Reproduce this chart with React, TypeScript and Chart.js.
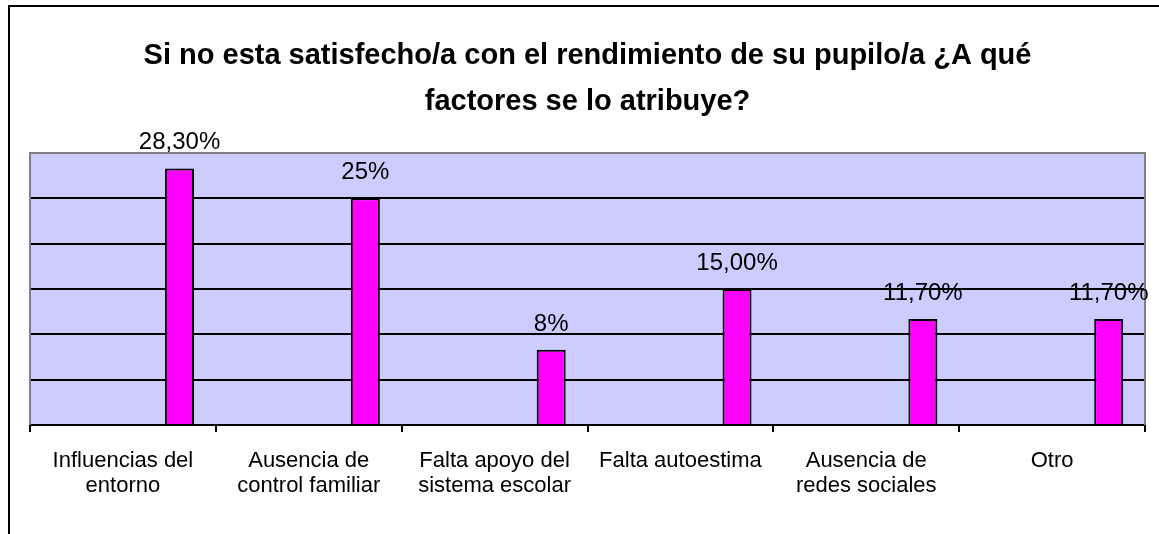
import React, { useEffect, useRef } from "react";
import { Chart, registerables } from "chart.js";

Chart.register(...registerables);

const titleLines = [
  "Si no esta satisfecho/a con el rendimiento de su pupilo/a ¿A qué",
  "factores se lo atribuye?",
];
const categories: string[][] = [
  ["Influencias del", "entorno"],
  ["Ausencia de", "control familiar"],
  ["Falta apoyo del", "sistema escolar"],
  ["Falta autoestima"],
  ["Ausencia de", "redes sociales"],
  ["Otro"],
];
const values = [28.3, 25, 8.3, 15, 11.7, 11.7];
const valueLabels = ["28,30%", "25%", "8%", "15,00%", "11,70%", "11,70%"];
const emptySeriesA = [null, null, null, null, null, null];
const emptySeriesB = [null, null, null, null, null, null];
const yMin = 0;
const yMax = 30;
const yStep = 5;

const FONT = "'Liberation Sans', Arial, sans-serif";

export default function App() {
  const ref = useRef<HTMLCanvasElement | null>(null);
  useEffect(() => {
    if (!ref.current) return;
    const framePlugin = {
      id: "framePlugin",
      beforeDraw(chart: any) {
        const { ctx, chartArea } = chart;
        ctx.save();
        ctx.fillStyle = "#ffffff";
        ctx.fillRect(0, 0, chart.width, chart.height);
        ctx.fillStyle = "#CCCCFF";
        ctx.fillRect(chartArea.left, chartArea.top, chartArea.right - chartArea.left, chartArea.bottom - chartArea.top);
        ctx.strokeStyle = "#000";
        ctx.lineWidth = 2;
        ctx.beginPath();
        ctx.moveTo(9, chart.height + 5);
        ctx.lineTo(9, 6);
        ctx.lineTo(chart.width + 5, 6);
        ctx.stroke();
        ctx.restore();
      },
      beforeDatasetsDraw(chart: any) {
        const { ctx, chartArea } = chart;
        ctx.save();
        ctx.strokeStyle = "#808080";
        ctx.lineWidth = 2;
        ctx.beginPath();
        ctx.moveTo(chartArea.left, chartArea.bottom);
        ctx.lineTo(chartArea.left, chartArea.top);
        ctx.lineTo(chartArea.right, chartArea.top);
        ctx.lineTo(chartArea.right, chartArea.bottom);
        ctx.stroke();
        ctx.restore();
      },
      afterDatasetsDraw(chart: any) {
        const { ctx } = chart;
        const meta = chart.getDatasetMeta(2);
        ctx.save();
        ctx.font = `24px ${FONT}`;
        ctx.fillStyle = "#000";
        ctx.textAlign = "center";
        ctx.textBaseline = "alphabetic";
        meta.data.forEach((el: any, i: number) => {
          ctx.fillText(valueLabels[i], el.x, el.y - 19);
        });
        ctx.restore();
      },
    };

    const chart = new Chart(ref.current, {
      type: "bar",
      data: {
        labels: categories,
        datasets: [
          { label: "", data: emptySeriesA, backgroundColor: "#FF00FF" },
          { label: "", data: emptySeriesB, backgroundColor: "#FF00FF" },
          {
            label: "Serie",
            data: values,
            backgroundColor: "#FF00FF",
            borderColor: "#000000",
            borderWidth: 2,
          },
        ],
      },
      options: {
        responsive: false,
        animation: false,
        devicePixelRatio: 1,
        categoryPercentage: 0.914,
        barPercentage: 0.512,
        layout: { padding: { left: 30, right: 14, top: 0, bottom: 0 } },
        plugins: {
          legend: { display: false },
          tooltip: { enabled: false },
          title: {
            display: true,
            text: titleLines,
            color: "#000",
            font: { family: FONT, size: 29, weight: "bold", lineHeight: 1.586 },
            padding: { top: 33, bottom: 28 },
          },
        },
        scales: {
          x: {
            position: "bottom",
            offset: true,
            afterFit: (s: any) => {
              s.height = 109;
            },
            grid: {
              offset: true,
              drawOnChartArea: false,
              drawTicks: true,
              tickLength: 7,
              color: "#000",
              lineWidth: 2,
            },
            border: { display: true, color: "#000", width: 2 },
            ticks: {
              color: "#000",
              font: { family: FONT, size: 22, lineHeight: 1.15 },
              padding: 16,
              autoSkip: false,
              maxRotation: 0,
              minRotation: 0,
            },
          },
          y: {
            min: yMin,
            max: yMax,
            afterFit: (s: any) => {
              s.width = 0;
            },
            ticks: { stepSize: yStep, display: false },
            grid: {
              drawTicks: false,
              lineWidth: 2,
              color: (c: any) => (c.tick && c.tick.value === yMax ? "#808080" : "#000"),
            },
            border: { display: false },
          },
        },
      },
      plugins: [framePlugin],
    } as any);
    return () => chart.destroy();
  }, []);

  return (
    <div style={{ position: "absolute", left: 0, top: 0, width: 1159, height: 534 }}>
      <canvas ref={ref} width={1159} height={534} style={{ display: "block" }} />
    </div>
  );
}
